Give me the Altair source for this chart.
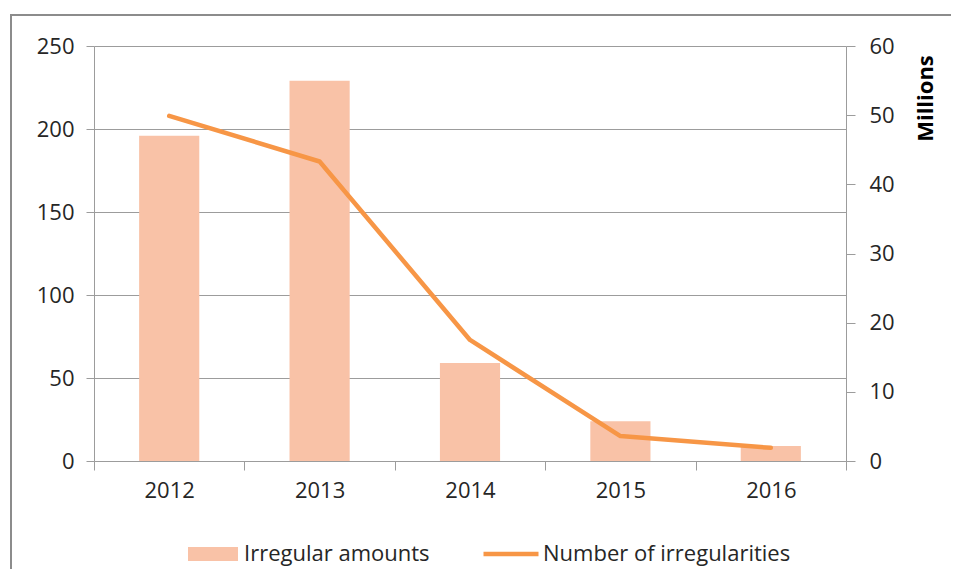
import altair as alt
import pandas as pd

years = ["2012", "2013", "2014", "2015", "2016"]
irregular_amounts = [196, 229, 59, 24, 9]
number_of_irregularities = [49.9, 43.3, 17.5, 3.6, 1.9]

df = pd.DataFrame({
    "year": years,
    "amount": irregular_amounts,
    "count": number_of_irregularities,
    "s1": ["Irregular amounts"] * len(years),
    "s2": ["Number of irregularities"] * len(years),
})

FONT = "Open Sans"
TXT = "#262626"
GRAY = "#9C9C9C"
BAR = "#F9C2A7"
LINE = "#F79646"

x_enc = alt.X(
    "year:N",
    scale=alt.Scale(paddingInner=0, paddingOuter=0),
    axis=alt.Axis(
        title=None, labelAngle=0, tickBand="extent", tickSize=9,
        tickColor=GRAY, domainColor=GRAY, labelFontSize=22, labelFont=FONT,
        labelColor=TXT, labelPadding=10, grid=False,
    ),
)

frame = alt.Chart(df).mark_rect(
    filled=False, stroke="#8C8C8C", strokeWidth=2
).encode(
    x=alt.value(-83), x2=alt.value(900), y=alt.value(-31), y2=alt.value(560)
)

bars = alt.Chart(df).mark_bar(width=alt.RelativeBandSize(0.4)).encode(
    x=x_enc,
    y=alt.Y(
        "amount:Q",
        scale=alt.Scale(domain=[0, 250], nice=False),
        axis=alt.Axis(
            orient="left", title=None, values=[0, 50, 100, 150, 200, 250],
            grid=True, gridColor=GRAY, tickSize=8, tickColor=GRAY,
            domainColor=GRAY, labelFontSize=22, labelFont=FONT,
            labelColor=TXT, labelPadding=12,
        ),
    ),
    fill=alt.Fill(
        "s1:N",
        scale=alt.Scale(range=[BAR]),
        legend=alt.Legend(
            orient="none", legendX=94, legendY=483, title=None,
            symbolType="M-1,-0.28H1V0.28H-1Z", symbolSize=2500,
            symbolStrokeWidth=0, symbolOpacity=1,
            labelFontSize=22, labelFont=FONT, labelColor=TXT,
            labelOffset=6, labelLimit=400, padding=0,
        ),
    ),
)

line = alt.Chart(df).mark_line(
    strokeWidth=4.5, strokeCap="round", strokeJoin="round"
).encode(
    x=x_enc,
    y=alt.Y(
        "count:Q",
        scale=alt.Scale(domain=[0, 60], nice=False),
        axis=alt.Axis(
            orient="right", title="Millions", values=[0, 10, 20, 30, 40, 50, 60],
            grid=False, tickSize=9, tickColor=GRAY, domainColor=GRAY,
            labelFontSize=22, labelFont=FONT, labelColor=TXT, labelPadding=14,
            titleFont=FONT, titleFontSize=22, titleFontWeight="bold",
            titleColor="#000000", titleAngle=270, titleX=79, titleY=52,
            titleAlign="center", titleBaseline="middle",
        ),
    ),
    stroke=alt.Stroke(
        "s2:N",
        scale=alt.Scale(range=[LINE]),
        legend=alt.Legend(
            orient="none", legendX=387, legendY=478, title=None,
            symbolType="stroke", symbolSize=3025, symbolStrokeWidth=4.5,
            labelFontSize=22, labelFont=FONT, labelColor=TXT,
            labelOffset=2, labelLimit=400, padding=0,
        ),
    ),
)

chart = alt.layer(frame, bars, line).resolve_scale(
    y="independent"
).properties(
    width=752, height=415,
    autosize=alt.AutoSizeParams(type="none"),
    padding={"left": 86, "top": 38, "right": 105, "bottom": 108},
).configure_view(stroke=None)

chart.save("out.html", embed_options={"renderer": "svg", "actions": False})
